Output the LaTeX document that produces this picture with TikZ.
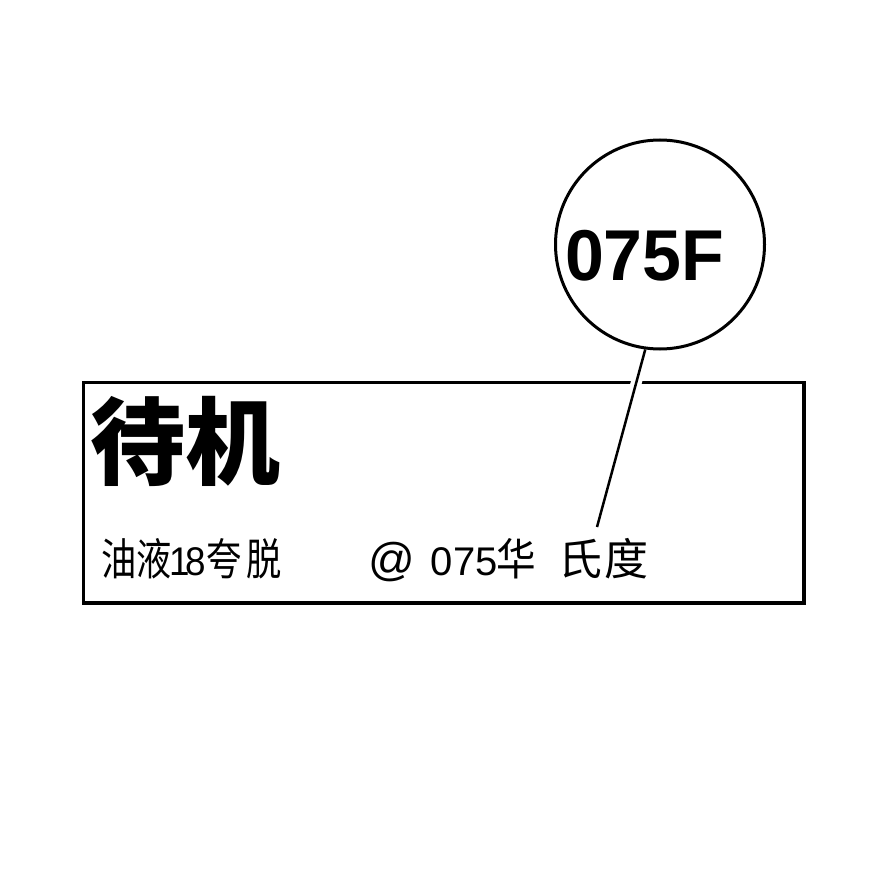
\documentclass[tikz,border=0pt]{standalone}
\usepackage{fontspec}
\usepackage{graphicx}
\setmainfont{Liberation Sans}
\newfontfamily\cjk{Noto Sans CJK SC}
\newcommand\myck{\cjk\fontsize{44}{48}\selectfont}
\newcommand\mylt{\rmfamily\fontsize{40}{48}\selectfont}
\newcommand\myat{\rmfamily\fontsize{46}{48}\selectfont}
\newcommand\gl[3]{\makebox[#1pt][l]{\scalebox{#2}[1]{#3}}}
\tikzset{
  frame/.style={draw=black, line width=3.2pt, outer sep=0pt, inner sep=0pt},
  bubble/.style={circle, draw=black, line width=3pt, minimum size=209pt, inner sep=0pt},
  leader/.style={draw=black, line width=2.5pt, preaction={draw=white, line width=11pt, shorten <=20pt, shorten >=20pt}},
  plain/.style={inner sep=0pt, outer sep=0pt, anchor=base west}
}
\begin{document}
\begin{tikzpicture}[x=1pt,y=-1pt]
\useasboundingbox[fill=white] (0,0) rectangle (880,877);
\node[frame, minimum width=720.5pt, minimum height=220.5pt, anchor=north west] (box) at (83.5,382.5) {};
\node[plain, font={\cjk\bfseries\fontsize{95}{110}\selectfont}] (title) at (90,477) {待机};
\node[plain] (sub) at (101.5,575) {%
\gl{35}{0.8}{\myck 油}%
\gl{32.8}{0.8}{\myck 液}%
\gl{15.9}{0.92}{\mylt 1}%
\gl{21.4}{0.92}{\mylt 8}%
\gl{40}{0.8}{\myck 夸}%
\gl{122}{0.8}{\myck 脱}%
\gl{61.7}{1}{\myat @}%
\gl{22.7}{1}{\mylt 0}%
\gl{22.2}{1}{\mylt 7}%
\gl{20.9}{1}{\mylt 5}%
\gl{62}{0.9}{\myck 华}%
\gl{46.3}{1}{\myck 氏}%
\gl{44}{1}{\myck 度}};
\node[bubble] (c) at (660,244.5) {};
\coordinate (tip) at (597,527);
\path[leader] (tip) -- (c.262);
\node[plain, font={\bfseries\fontsize{72}{80}\selectfont}] (code) at (565,280) {\scalebox{0.97}[1]{075F}};
\end{tikzpicture}
\end{document}
